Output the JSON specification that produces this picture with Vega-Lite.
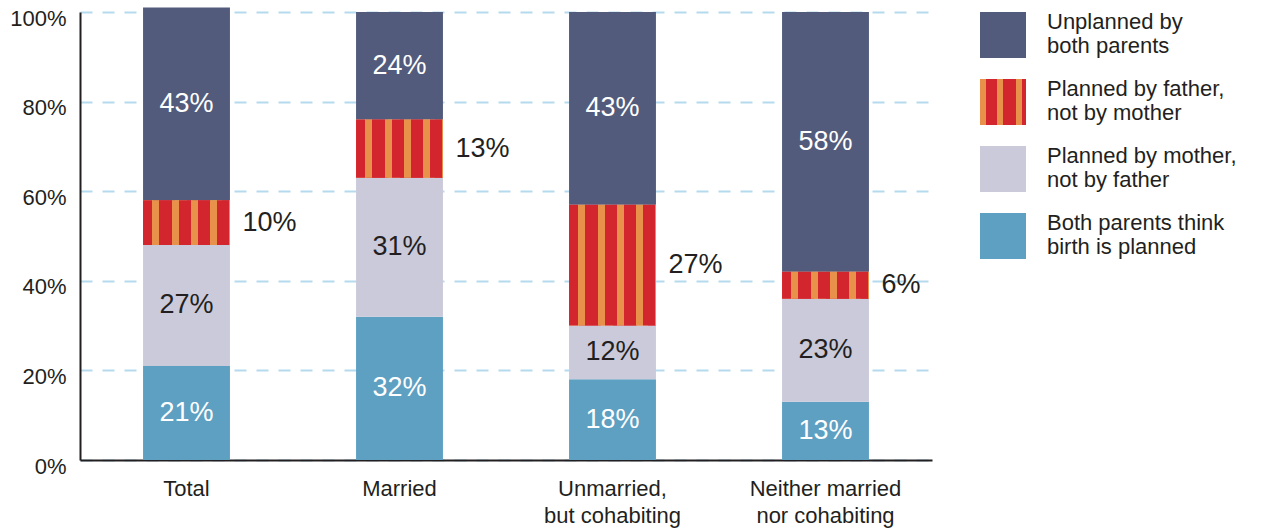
{
  "$schema": "https://vega.github.io/schema/vega-lite/v6.json",
  "width": 852,
  "height": 448,
  "autosize": {"type": "none"},
  "padding": {"left": 80, "top": 12, "right": 329, "bottom": 69},
  "background": "white",
  "config": {
    "view": {"stroke": null},
    "font": "Liberation Sans",
    "axisY": {
      "title": null,
      "ticks": false,
      "labelPadding": 14,
      "labelOffset": 6,
      "labelFontSize": 22,
      "labelColor": "#231f20",
      "domainColor": "#231f20",
      "domainWidth": 2,
      "gridColor": "#b5daed",
      "gridDash": [12, 10],
      "gridWidth": 2
    }
  },
  "data": {
    "values": [
      {"group": "Total", "segment": "Both parents think birth is planned", "k": 1, "value": 21},
      {"group": "Total", "segment": "Planned by mother, not by father", "k": 2, "value": 27},
      {"group": "Total", "segment": "Planned by father, not by mother", "k": 3, "value": 10},
      {"group": "Total", "segment": "Unplanned by both parents", "k": 4, "value": 43},
      {"group": "Married", "segment": "Both parents think birth is planned", "k": 1, "value": 32},
      {"group": "Married", "segment": "Planned by mother, not by father", "k": 2, "value": 31},
      {"group": "Married", "segment": "Planned by father, not by mother", "k": 3, "value": 13},
      {"group": "Married", "segment": "Unplanned by both parents", "k": 4, "value": 24},
      {"group": "Unmarried, but cohabiting", "segment": "Both parents think birth is planned", "k": 1, "value": 18},
      {"group": "Unmarried, but cohabiting", "segment": "Planned by mother, not by father", "k": 2, "value": 12},
      {"group": "Unmarried, but cohabiting", "segment": "Planned by father, not by mother", "k": 3, "value": 27},
      {"group": "Unmarried, but cohabiting", "segment": "Unplanned by both parents", "k": 4, "value": 43},
      {"group": "Neither married nor cohabiting", "segment": "Both parents think birth is planned", "k": 1, "value": 13},
      {"group": "Neither married nor cohabiting", "segment": "Planned by mother, not by father", "k": 2, "value": 23},
      {"group": "Neither married nor cohabiting", "segment": "Planned by father, not by mother", "k": 3, "value": 6},
      {"group": "Neither married nor cohabiting", "segment": "Unplanned by both parents", "k": 4, "value": 58}
    ]
  },
  "transform": [
    {"stack": "value", "groupby": ["group"], "sort": [{"field": "k", "order": "ascending"}], "as": ["y0", "y1"]},
    {"calculate": "(datum.y0 + datum.y1) / 2", "as": "ymid"},
    {"calculate": "datum.value + '%'", "as": "lbl"}
  ],
  "encoding": {
    "x": {
      "field": "group",
      "type": "nominal",
      "sort": null,
      "scale": {"paddingInner": 0.592, "paddingOuter": 0.296},
      "axis": {
        "title": null,
        "labelAngle": 0,
        "labelFontSize": 22,
        "labelColor": "#231f20",
        "labelPadding": 18,
        "labelLineHeight": 27,
        "ticks": false,
        "domainColor": "#231f20",
        "domainWidth": 2,
        "labelExpr": "datum.label == 'Unmarried, but cohabiting' ? ['Unmarried,', 'but cohabiting'] : datum.label == 'Neither married nor cohabiting' ? ['Neither married', 'nor cohabiting'] : datum.label"
      }
    }
  },
  "layer": [
    {
      "mark": {"type": "bar"},
      "encoding": {
        "y": {
          "field": "y0",
          "type": "quantitative",
          "scale": {"domain": [0, 100], "nice": false},
          "axis": {"title": null, "values": [0, 20, 40, 60, 80, 100], "labelExpr": "datum.value + '%'"}
        },
        "y2": {"field": "y1"},
        "fill": {
          "field": "segment",
          "type": "nominal",
          "scale": {
            "domain": ["Unplanned by both parents", "Planned by father, not by mother", "Planned by mother, not by father", "Both parents think birth is planned"],
            "range": [
              "#525b7b",
              {"expr": "{gradient: 'linear', x1: 0, y1: 0, x2: 1, y2: 0, stops: [{offset: 0, color: '#e8914b'}, {offset: 0.12, color: '#e8914b'}, {offset: 0.12, color: '#d3252d'}, {offset: 0.37, color: '#d3252d'}, {offset: 0.37, color: '#e8914b'}, {offset: 0.51, color: '#e8914b'}, {offset: 0.51, color: '#d3252d'}, {offset: 0.78, color: '#d3252d'}, {offset: 0.78, color: '#e8914b'}, {offset: 0.91, color: '#e8914b'}, {offset: 0.91, color: '#d3252d'}, {offset: 1, color: '#d3252d'}]}"},
              "#cbcadb",
              "#5ea0c2"
            ]
          },
          "legend": {
            "orient": "none",
            "legendX": 900,
            "legendY": 0,
            "title": null,
            "padding": 0,
            "symbolType": "square",
            "symbolSize": 2116,
            "symbolStrokeWidth": 0,
            "symbolOpacity": 1,
            "labelFontSize": 22,
            "labelColor": "#231f20",
            "labelLimit": 320,
            "labelOffset": 21,
            "labelLineHeight": 26,
            "rowPadding": 20,
            "labelExpr": "datum.label == 'Unplanned by both parents' ? ['Unplanned by', 'both parents'] : datum.label == 'Planned by father, not by mother' ? ['Planned by father,', 'not by mother'] : datum.label == 'Planned by mother, not by father' ? ['Planned by mother,', 'not by father'] : ['Both parents think', 'birth is planned']",
            "encode": {
              "labels": {"update": {"dy": {"value": -13}}}
            }
          }
        }
      }
    },
    {
      "transform": [{"filter": "datum.k == 3"}],
      "mark": {
        "type": "bar",
        "fill": {"gradient": "linear", "x1": 0, "y1": 0, "x2": 1, "y2": 0, "stops": [
          {"offset": 0, "color": "#d3252d"}, {"offset": 0.107, "color": "#d3252d"},
          {"offset": 0.107, "color": "#e8914b"}, {"offset": 0.187, "color": "#e8914b"},
          {"offset": 0.187, "color": "#d3252d"}, {"offset": 0.33, "color": "#d3252d"},
          {"offset": 0.33, "color": "#e8914b"}, {"offset": 0.41, "color": "#e8914b"},
          {"offset": 0.41, "color": "#d3252d"}, {"offset": 0.553, "color": "#d3252d"},
          {"offset": 0.553, "color": "#e8914b"}, {"offset": 0.633, "color": "#e8914b"},
          {"offset": 0.633, "color": "#d3252d"}, {"offset": 0.776, "color": "#d3252d"},
          {"offset": 0.776, "color": "#e8914b"}, {"offset": 0.856, "color": "#e8914b"},
          {"offset": 0.856, "color": "#d3252d"}, {"offset": 0.985, "color": "#d3252d"},
          {"offset": 0.985, "color": "#e8914b"}, {"offset": 1, "color": "#e8914b"}
        ]}
      },
      "encoding": {
        "y": {"field": "y0", "type": "quantitative", "axis": {"title": null, "values": [0, 20, 40, 60, 80, 100], "labelExpr": "datum.value + '%'"}},
        "y2": {"field": "y1"}
      }
    },
    {
      "transform": [{"filter": "datum.k != 3"}],
      "mark": {"type": "text", "fontSize": 27, "baseline": "middle", "align": "center"},
      "encoding": {
        "y": {"field": "ymid", "type": "quantitative", "axis": {"title": null, "values": [0, 20, 40, 60, 80, 100], "labelExpr": "datum.value + '%'"}},
        "text": {"field": "lbl"},
        "color": {"condition": {"test": "datum.k == 2", "value": "#231f20"}, "value": "white"}
      }
    },
    {
      "transform": [{"filter": "datum.k == 3"}],
      "mark": {"type": "text", "fontSize": 27, "baseline": "middle", "align": "left", "dx": 56, "color": "#231f20"},
      "encoding": {
        "y": {"field": "ymid", "type": "quantitative", "axis": {"title": null, "values": [0, 20, 40, 60, 80, 100], "labelExpr": "datum.value + '%'"}},
        "text": {"field": "lbl"}
      }
    }
  ]
}
